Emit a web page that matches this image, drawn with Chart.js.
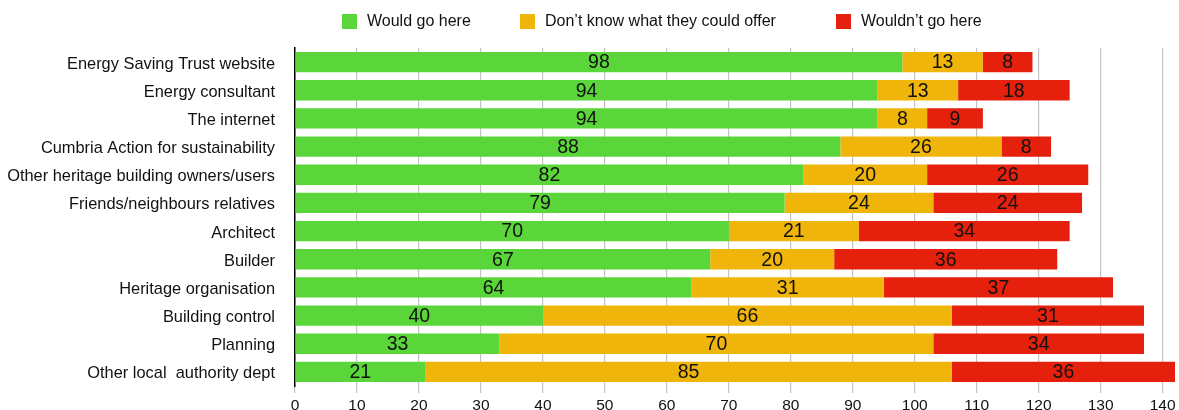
<!DOCTYPE html>
<html>
<head>
<meta charset="utf-8">
<script src="https://cdn.jsdelivr.net/npm/chart.js@4/dist/chart.umd.min.js"></script>
<style>
  html, body { margin:0; padding:0; background:#fff; }
  #wrap { position:relative; width:1179px; height:410px; }
  #legend { position:absolute; top:12px; left:0; width:1179px; height:22px; font-family:"Liberation Sans", Arial, sans-serif; font-size:16px; color:#111; }
  .li { position:absolute; top:0; display:flex; align-items:center; white-space:nowrap; }
  .sw { width:15px; height:15px; margin-right:10px; display:inline-block; }
</style>
</head>
<body>
<div id="wrap">
  <canvas id="c" width="1179" height="410"></canvas>
  <div id="legend"></div>
</div>
<script>
const categories = [
  "Energy Saving Trust website",
  "Energy consultant",
  "The internet",
  "Cumbria Action for sustainability",
  "Other heritage building owners/users",
  "Friends/neighbours relatives",
  "Architect",
  "Builder",
  "Heritage organisation",
  "Building control",
  "Planning",
  "Other local  authority dept"
];
const seriesNames = ["Would go here", "Don\u2019t know what they could offer", "Wouldn\u2019t go here"];
const wouldGo = [98, 94, 94, 88, 82, 79, 70, 67, 64, 40, 33, 21];
const dontKnow = [13, 13, 8, 26, 20, 24, 21, 20, 31, 66, 70, 85];
const wouldnt = [8, 18, 9, 8, 26, 24, 34, 36, 37, 31, 34, 36];
const xTicks = [0, 10, 20, 30, 40, 50, 60, 70, 80, 90, 100, 110, 120, 130, 140];

const colors = ["#5ad63a", "#f0b50b", "#e5210d"];
const legendX = [342, 520, 836];

const legend = document.getElementById('legend');
seriesNames.forEach((n, i) => {
  const d = document.createElement('div');
  d.className = 'li';
  d.style.left = legendX[i] + 'px';
  d.innerHTML = '<span class="sw" style="background:' + colors[i] + '"></span><span></span>';
  d.lastChild.textContent = n;
  legend.appendChild(d);
});

const labelPlugin = {
  id: 'segLabels',
  afterDatasetsDraw(chart) {
    const ctx = chart.ctx;
    ctx.save();
    ctx.font = '19.5px "Liberation Sans", Arial, sans-serif';
    ctx.fillStyle = '#111';
    ctx.textAlign = 'center';
    ctx.textBaseline = 'middle';
    chart.data.datasets.forEach((ds, di) => {
      const meta = chart.getDatasetMeta(di);
      meta.data.forEach((el, i) => {
        const cx = (el.x + el.base) / 2;
        ctx.fillText(String(ds.data[i]), cx, el.y + 1);
      });
    });
    ctx.restore();
  }
};

new Chart(document.getElementById('c'), {
  type: 'bar',
  data: {
    labels: categories,
    datasets: [
      { label: seriesNames[0], data: wouldGo, backgroundColor: colors[0] },
      { label: seriesNames[1], data: dontKnow, backgroundColor: colors[1] },
      { label: seriesNames[2], data: wouldnt, backgroundColor: colors[2] }
    ]
  },
  options: {
    indexAxis: 'y',
    responsive: false,
    animation: false,
    layout: { padding: { top: 48, right: 4, left: 0, bottom: 0 } },
    datasets: { bar: { categoryPercentage: 1, barPercentage: 0.72, borderWidth: 0 } },
    plugins: { legend: { display: false }, tooltip: { enabled: false } },
    scales: {
      x: {
        stacked: true,
        min: 0, max: 142,
        afterFit(s) { s.height = 24; s.paddingLeft = 0; s.paddingRight = 0; },
        afterBuildTicks(s) { s.ticks = xTicks.map(v => ({ value: v })); },
        ticks: { font: { size: 15.5, family: '"Liberation Sans", Arial, sans-serif' }, color: '#111', padding: 3, maxRotation: 0 },
        grid: { color: '#c4c4c4', lineWidth: 1.2, tickLength: 7, drawOnChartArea: true },
        border: { display: false }
      },
      y: {
        stacked: true,
        afterFit(s) { s.width = 295; s.paddingTop = 0; s.paddingBottom = 0; },
        ticks: { font: { size: 16.4, family: '"Liberation Sans", Arial, sans-serif' }, color: '#111', padding: 20, labelOffset: 2 },
        grid: { display: false, drawTicks: false },
        border: { display: true, color: '#000', width: 1.5 }
      }
    }
  },
  plugins: [labelPlugin]
});
</script>
</body>
</html>
